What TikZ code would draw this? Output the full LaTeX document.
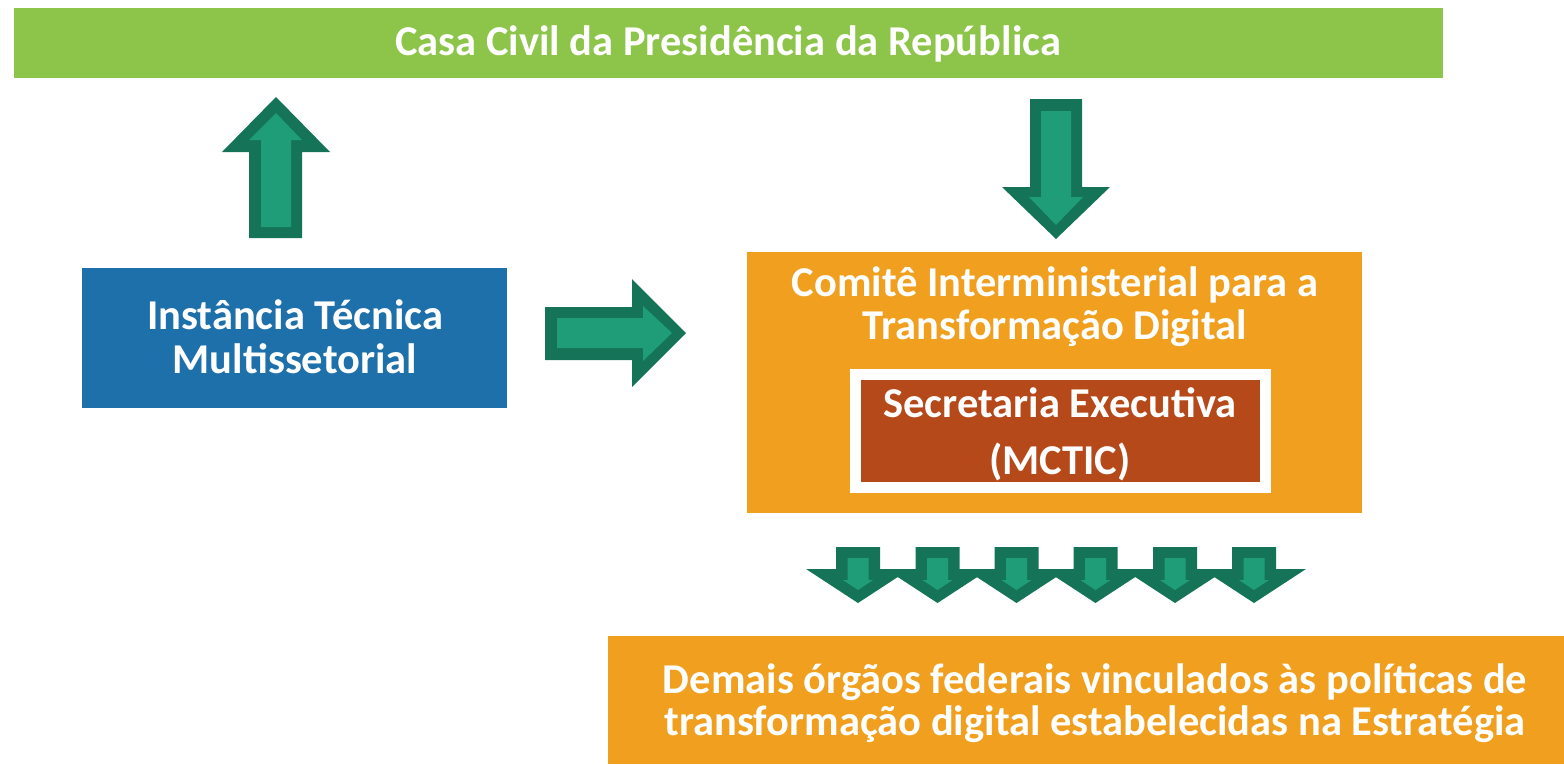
\documentclass[tikz,border=0pt]{standalone}
\usepackage{fontspec}
\setmainfont{Carlito}
\definecolor{topgreen}{HTML}{8DC44A}
\definecolor{itblue}{HTML}{1E70AA}
\definecolor{orangebox}{HTML}{F09F1E}
\definecolor{brownbox}{HTML}{B5491A}
\definecolor{arrdark}{HTML}{157458}
\definecolor{arrlight}{HTML}{1F9D78}
\begin{document}
\begin{tikzpicture}[x=1pt,y=-1pt,
  lbl/.style={text=white,font=\fontsize{42.5}{44}\selectfont\bfseries,align=center,inner sep=0pt},
  outerarr/.style={fill=arrdark},
  innerarr/.style={fill=arrlight}]
\useasboundingbox (0,0) rectangle (1564,764);
% boxes
\fill[topgreen] (14,8) rectangle (1443,78);
\node[lbl] (casa) at (728,44) {Casa Civil da Presidência da República};
\fill[itblue] (82,268) rectangle (507,408);
\node[lbl] (inst) at (295,337) {Instância Técnica\\Multissetorial};
\fill[orangebox] (747,252) rectangle (1362,513);
\node[lbl,font=\fontsize{42.5}{43}\selectfont\bfseries] (comite) at (1055,307) {Comitê Interministerial para a\\Transformação Digital};
\fill[white] (850,369) rectangle (1271,493);
\fill[brownbox] (861,380) rectangle (1260,482);
\node[lbl,font=\fontsize{42.5}{57}\selectfont\bfseries] (sec) at (1060,434.5) {Secretaria Executiva\\(MCTIC)};
\fill[orangebox] (608,636) rectangle (1564,764);
\node[lbl,font=\fontsize{42.5}{42}\selectfont\bfseries] (demais) at (1095,703) {Demais órgãos federais vinculados às políticas de\\transformação digital estabelecidas na Estratégia};
% up arrow
\fill[outerarr] (249,238) -- (249,152) -- (222,152) -- (276,97) -- (330,152) -- (302,152) -- (302,238) -- cycle;
\fill[innerarr] (261,227) -- (261,140) -- (249,140) -- (276,113) -- (302,140) -- (291,140) -- (291,227) -- cycle;
% down arrow
\fill[outerarr] (1030,99) -- (1030,187) -- (1002,187) -- (1056,239) -- (1110,187) -- (1082,187) -- (1082,99) -- cycle;
\fill[innerarr] (1041,111) -- (1041,197) -- (1029,197) -- (1056,225) -- (1083,197) -- (1071,197) -- (1071,111) -- cycle;
% right arrow
\fill[outerarr] (545,307) -- (632,307) -- (632,279) -- (686,333) -- (632,387) -- (632,360) -- (545,360) -- cycle;
\fill[innerarr] (557,318) -- (643,318) -- (643,306) -- (672,333) -- (643,361) -- (643,348) -- (557,348) -- cycle;
% small arrows
\foreach \c in {858,937.5,1016.5,1095.5,1175,1254}{
  \fill[outerarr] (\c-22,547) -- (\c-22,569) -- (\c-52,569) -- (\c,603) -- (\c+52,569) -- (\c+22,569) -- (\c+22,547) -- cycle;
}
\foreach \c in {858,937.5,1016.5,1095.5,1175,1254}{
  \fill[innerarr] (\c-10.5,558) -- (\c-10.5,580) -- (\c-15,580) -- (\c,590) -- (\c+15,580) -- (\c+10.5,580) -- (\c+10.5,558) -- cycle;
}
\end{tikzpicture}
\end{document}
